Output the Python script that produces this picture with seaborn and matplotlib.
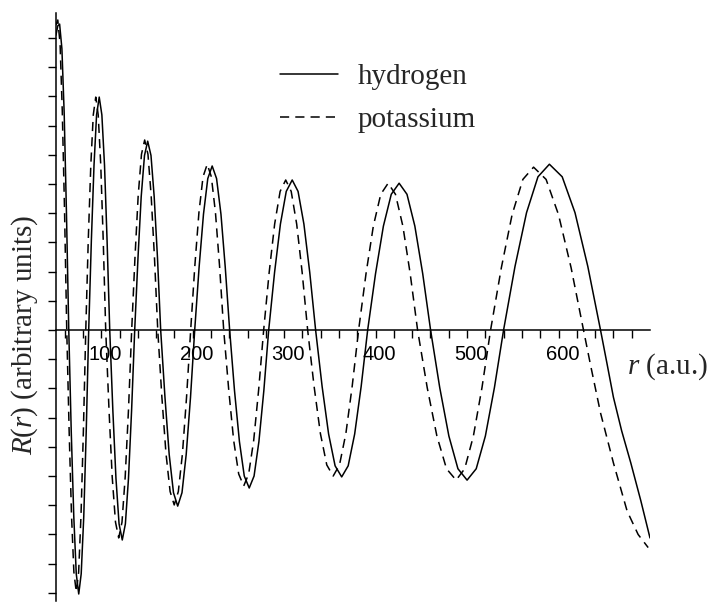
import matplotlib
matplotlib.use("Agg")
import matplotlib.pyplot as plt
import matplotlib.transforms as mtransforms
import numpy as np
import pandas as pd
import seaborn as sns
from matplotlib.ticker import FixedLocator, NullFormatter

# Radial wave functions R(r) of a Rydberg state (arbitrary units) vs r in atomic units
H_r = [50.5, 52.5, 54.5, 57.0, 59.5, 62.0, 64.5,
       67.2, 70.0, 72.7, 75.4, 78.1, 80.9, 83.6, 86.3,
       89.2, 92.1, 94.9, 97.8, 100.7, 103.6, 106.4, 109.3,
       112.7, 116.1, 119.5, 123.0, 126.4, 129.8, 133.2, 136.6,
       140.2, 143.7, 147.3, 150.8, 154.4, 157.9, 161.5, 165.0,
       169.7, 174.3, 179.0, 183.6, 188.3, 192.9, 197.6, 202.2,
       207.0, 211.8, 216.5, 221.3, 226.1, 230.9, 235.6, 240.4,
       245.7, 251.1, 256.4, 261.8, 267.1, 272.4, 277.8, 283.1,
       289.5, 295.9, 302.3, 308.8, 315.2, 321.6, 328.0, 334.4,
       341.5, 348.6, 355.7, 362.9, 370.0, 377.1, 384.2, 391.3,
       399.9, 408.5, 417.1, 425.7, 434.3, 442.9, 451.5, 460.1,
       470.1, 480.1, 490.0, 500.0, 510.0, 520.0, 529.9, 539.9,
       552.4, 565.0, 577.5, 590.0, 604.0, 618.0, 632.0, 645.9,
       653.0, 660.0, 669.0, 679.0, 690.0, 700.0]
H_R = [10.10, 10.42, 10.48, 9.64, 7.42, 3.98, 0.0,
       -3.46, -6.39, -8.35, -9.04, -8.35, -6.39, -3.46, 0.0,
       3.06, 5.64, 7.37, 7.98, 7.37, 5.64, 3.06, 0.0,
       -2.75, -5.08, -6.64, -7.19, -6.64, -5.08, -2.75, 0.0,
       2.48, 4.57, 5.98, 6.47, 5.98, 4.57, 2.48, 0.0,
       -2.31, -4.26, -5.57, -6.03, -5.57, -4.26, -2.31, 0.0,
       2.15, 3.97, 5.19, 5.62, 5.19, 3.97, 2.15, 0.0,
       -2.07, -3.82, -5.00, -5.41, -5.00, -3.82, -2.07, 0.0,
       1.97, 3.63, 4.75, 5.14, 4.75, 3.63, 1.97, 0.0,
       -1.93, -3.56, -4.65, -5.03, -4.65, -3.56, -1.93, 0.0,
       1.93, 3.56, 4.65, 5.03, 4.65, 3.56, 1.93, 0.0,
       -1.97, -3.63, -4.75, -5.14, -4.75, -3.63, -1.97, 0.0,
       2.18, 4.02, 5.25, 5.68, 5.25, 4.02, 2.18, 0.0,
       -1.15, -2.30, -3.45, -4.55, -5.85, -7.12]

K_r = [50.5, 52.5, 55.0, 57.4, 59.9, 62.3,
       64.9, 67.5, 70.1, 72.7, 75.3, 77.9, 80.5, 83.1,
       85.8, 88.6, 91.3, 94.0, 96.7, 99.5, 102.2, 104.9,
       108.5, 112.0, 115.6, 119.1, 122.7, 126.2, 129.8, 133.3,
       136.9, 140.4, 144.0, 147.5, 151.1, 154.6, 158.2, 161.8,
       166.3, 170.8, 175.3, 179.8, 184.3, 188.8, 193.3, 197.8,
       202.3, 206.8, 211.3, 215.9, 220.4, 224.9, 229.4, 233.9,
       239.4, 244.8, 250.3, 255.8, 261.2, 266.7, 272.1, 277.6,
       283.6, 289.6, 295.6, 301.7, 307.7, 313.7, 319.7, 325.7,
       332.7, 339.6, 346.6, 353.6, 360.5, 367.5, 374.4, 381.4,
       389.5, 397.5, 405.6, 413.7, 421.7, 429.8, 437.8, 445.9,
       456.4, 467.0, 477.5, 488.0, 497.4, 506.9, 516.3, 525.7,
       537.5, 549.2, 561.0, 572.7, 586.4, 600.0, 613.7, 627.3,
       635.0, 646.0, 660.0, 675.0, 687.0, 698.0]
K_R = [10.45, 10.62, 9.81, 7.51, 4.07, 0.0,
       -3.44, -6.34, -8.29, -8.97, -8.29, -6.34, -3.44, 0.0,
       3.06, 5.64, 7.37, 7.98, 7.37, 5.64, 3.06, 0.0,
       -2.73, -5.03, -6.58, -7.12, -6.58, -5.03, -2.73, 0.0,
       2.49, 4.60, 6.02, 6.51, 6.02, 4.60, 2.49, 0.0,
       -2.29, -4.23, -5.53, -5.99, -5.53, -4.23, -2.29, 0.0,
       2.18, 4.02, 5.25, 5.68, 5.25, 4.02, 2.18, 0.0,
       -2.05, -3.78, -4.93, -5.34, -4.93, -3.78, -2.05, 0.0,
       1.97, 3.63, 4.75, 5.14, 4.75, 3.63, 1.97, 0.0,
       -1.92, -3.54, -4.62, -5.00, -4.62, -3.54, -1.92, 0.0,
       1.93, 3.56, 4.65, 5.03, 4.65, 3.56, 1.93, 0.0,
       -1.97, -3.63, -4.75, -5.14, -4.75, -3.63, -1.97, 0.0,
       2.14, 3.95, 5.16, 5.58, 5.16, 3.95, 2.14, 0.0,
       -1.20, -2.85, -4.55, -6.20, -7.00, -7.45]

SERIES = ["hydrogen", "potassium"]
X_LABELED = [100, 200, 300, 400, 500, 600]

sns.set_theme(style="white")
plt.rcParams["font.family"] = ["Liberation Serif", "DejaVu Serif"]
plt.rcParams["mathtext.fontset"] = "custom"
plt.rcParams["mathtext.rm"] = "Liberation Serif"
plt.rcParams["mathtext.it"] = "Liberation Serif:italic"

df = pd.concat([
    pd.DataFrame({"r": H_r, "R": H_R, "atom": SERIES[0]}),
    pd.DataFrame({"r": K_r, "R": K_R, "atom": SERIES[1]}),
], ignore_index=True)

W, H = 707, 603
fig = plt.figure(figsize=(W / 100, H / 100), dpi=100)
ax = fig.add_axes([55.5 / W, (H - 601) / H, (650 - 55.5) / W, (601 - 13) / H])

sns.lineplot(data=df, x="r", y="R", hue="atom", style="atom",
             palette={SERIES[0]: "black", SERIES[1]: "black"},
             dashes={SERIES[0]: "", SERIES[1]: (6, 4)},
             estimator=None, sort=False, linewidth=1.1, legend=False, ax=ax)

ax.set_xlim(50, 700)
ax.set_ylim(-9.28, 10.86)
ax.set_xlabel("")
ax.set_ylabel("")

# axes drawn through the origin of the plotted range
for s in ["top", "right"]:
    ax.spines[s].set_visible(False)
ax.spines["bottom"].set_position(("data", 0))
ax.spines["left"].set_position(("data", 50))
for s in ["bottom", "left"]:
    ax.spines[s].set_color("black")
    ax.spines[s].set_linewidth(1.1)

ax.xaxis.set_major_locator(FixedLocator(X_LABELED))
ax.xaxis.set_minor_locator(FixedLocator([v for v in range(60, 701, 20) if v % 100]))
ax.tick_params(axis="x", which="both", bottom=True, direction="out", length=5.8,
               width=1.0, color="black", labelsize=14.5, labelcolor="black", pad=5)
shift = mtransforms.ScaledTranslation(4 / 100, 0, fig.dpi_scale_trans)
for lab in ax.get_xticklabels():
    lab.set_fontfamily("Liberation Sans")
    lab.set_transform(lab.get_transform() + shift)

ax.yaxis.set_major_locator(FixedLocator(list(range(-9, 11))))
ax.yaxis.set_major_formatter(NullFormatter())
ax.tick_params(axis="y", which="both", left=True, direction="out", length=5.8,
               width=1.0, color="black")

fig.text(627 / W, (H - 374) / H, "$r$ (a.u.)", fontsize=21, ha="left", va="baseline")
fig.text(25 / W, (H - 455) / H, "$R$($r$) (arbitrary units)", fontsize=21,
         rotation=90, ha="center", va="bottom")

ax.legend(handles=ax.lines[:2], labels=SERIES, loc="upper left",
          bbox_to_anchor=(280 / W, (H - 64) / H), bbox_transform=fig.transFigure,
          frameon=False, fontsize=21, handlelength=2.0, handletextpad=0.65,
          labelspacing=0.55, borderpad=0, borderaxespad=0)

fig.savefig("out.png", dpi=100)
